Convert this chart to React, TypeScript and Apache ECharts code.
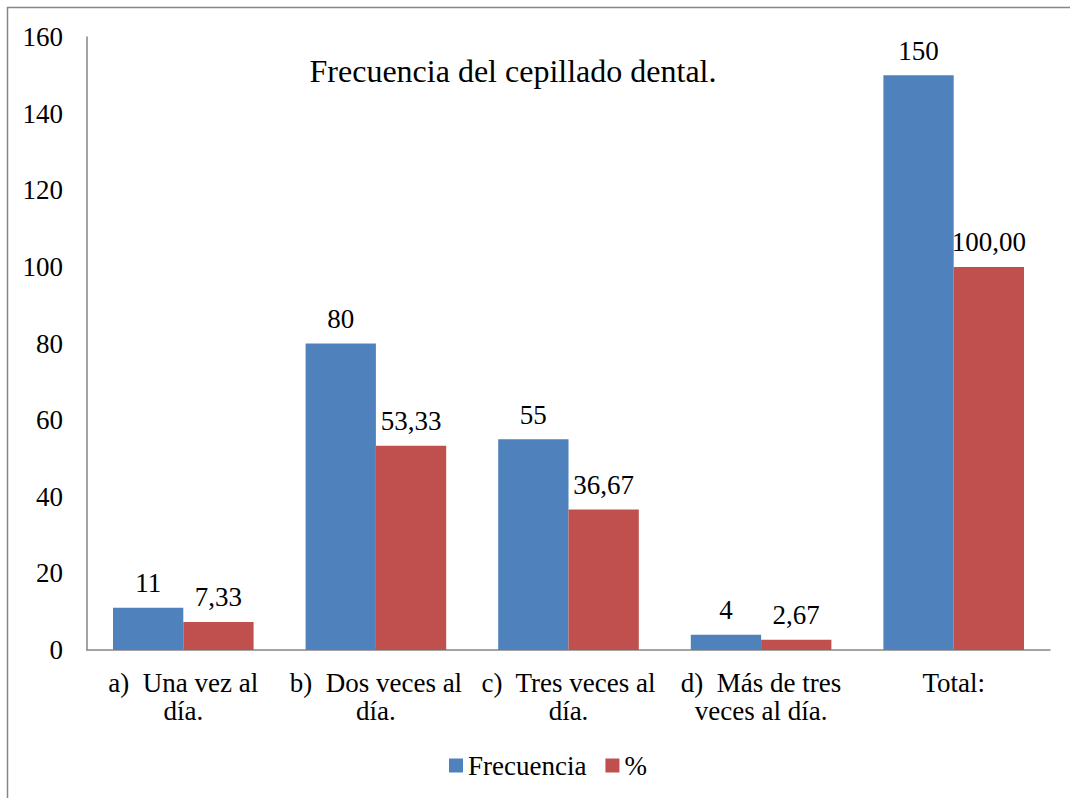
import React, { useEffect, useRef } from "react";
import * as echarts from "echarts";

const categories = [
  "a)  Una vez al\ndía.",
  "b)  Dos veces al\ndía.",
  "c)  Tres veces al\ndía.",
  "d)  Más de tres\nveces al día.",
  "Total:",
];
const frecuencia = [11, 80, 55, 4, 150];
const porcentaje = [7.33, 53.33, 36.67, 2.67, 100.0];
const yTicks = { min: 0, max: 160, interval: 20 };
const titleText = "Frecuencia del cepillado dental.";

const FONT = "'Liberation Serif', 'Times New Roman', serif";
const FS = 27;

export default function App() {
  const ref = useRef<HTMLDivElement>(null);
  useEffect(() => {
    if (!ref.current) return;
    const chart = echarts.init(ref.current, undefined, { renderer: "svg" });
    chart.setOption({
      animation: false,
      textStyle: { fontFamily: FONT, color: "#000" },
      title: {
        text: titleText,
        left: 508,
        top: 50,
        textAlign: "center",
        textStyle: { fontFamily: FONT, fontSize: 32, fontWeight: "normal", color: "#000" },
      },
      graphic: [
        {
          type: "rect",
          shape: { x: 7.5, y: 7.5, width: 1200, height: 1000 },
          style: { fill: "none", stroke: "#868686", lineWidth: 1.5 },
          silent: true,
        },
      ],
      legend: {
        bottom: 14,
        left: 444,
        itemWidth: 14,
        itemHeight: 14,
        itemGap: 19,
        icon: "rect",
        textStyle: { fontFamily: FONT, fontSize: FS, color: "#000" },
        data: ["Frecuencia", "%"],
      },
      grid: { left: 87, right: 20, top: 37, bottom: 148, containLabel: false },
      xAxis: {
        type: "category",
        data: categories,
        axisLine: { lineStyle: { color: "#868686", width: 1.5 } },
        axisTick: { show: false },
        axisLabel: {
          fontFamily: FONT,
          fontSize: FS,
          color: "#000",
          lineHeight: 28,
          margin: 19,
          interval: 0,
        },
      },
      yAxis: {
        type: "value",
        min: yTicks.min,
        max: yTicks.max,
        interval: yTicks.interval,
        axisLine: { show: true, lineStyle: { color: "#868686", width: 1.5 } },
        axisTick: { show: false },
        splitLine: { show: false },
        axisLabel: { fontFamily: FONT, fontSize: FS, color: "#000", margin: 24 },
      },
      series: [
        {
          name: "Frecuencia",
          type: "bar",
          data: frecuencia,
          barGap: "0%",
          barCategoryGap: "27%",
          itemStyle: { color: "#4F81BD" },
          label: {
            show: true,
            position: "top",
            distance: 11,
            fontFamily: FONT,
            fontSize: FS,
            color: "#000",
            formatter: (p: any) => String(p.value),
          },
        },
        {
          name: "%",
          type: "bar",
          data: porcentaje,
          itemStyle: { color: "#C0504D" },
          label: {
            show: true,
            position: "top",
            distance: 11,
            fontFamily: FONT,
            fontSize: FS,
            color: "#000",
            formatter: (p: any) => Number(p.value).toFixed(2).replace(".", ","),
          },
        },
      ],
    });
    return () => chart.dispose();
  }, []);
  return (
    <div
      ref={ref}
      style={{ position: "fixed", left: 0, top: 0, width: 1070, height: 798, background: "#fff" }}
    />
  );
}
